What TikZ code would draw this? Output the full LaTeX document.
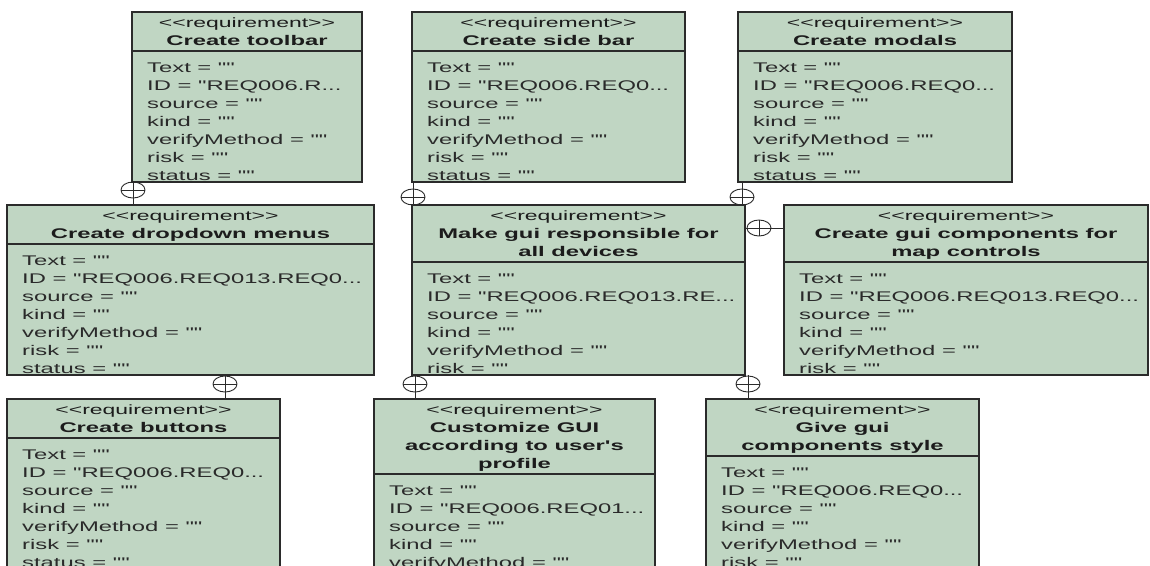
\documentclass[tikz,border=0pt]{standalone}
\usepackage{fontspec}
\usetikzlibrary{calc}
\newfontfamily\umlfont[FakeStretch=1.7]{Liberation Sans}
\definecolor{reqfill}{HTML}{C0D6C3}
\definecolor{reqline}{HTML}{2B2B2B}
\definecolor{reqtext}{HTML}{1C1C1C}
\definecolor{attrcol}{HTML}{2A2A2A}

\tikzset{
  reqframe/.style={draw=reqline, fill=reqfill, line width=1.3pt, rectangle,
    inner sep=0pt, outer sep=0pt},
  divider/.style={draw=reqline, line width=1.1pt},
  stereo/.style={font=\umlfont\fontsize{13.5}{16}\selectfont, text=reqtext,
    inner sep=0pt, anchor=base},
  titletext/.style={font=\umlfont\bfseries\fontsize{14}{17}\selectfont,
    text=reqtext, inner sep=0pt, anchor=base},
  attrtext/.style={font=\umlfont\fontsize{14}{17}\selectfont, text=attrcol,
    inner sep=0pt, anchor=base west},
  link/.style={draw=reqline, line width=0.9pt}
}

% truncation mark at the end of a clipped value
\newcommand\cut{...}

% requirement block: name, left, top, right, bottom, title lines, number of title lines, ID value
\newcommand\reqbox[8]{%
  \node[reqframe, anchor=north west, minimum width={(#4-#2)*1pt},
        minimum height={(#5-#3)*1pt}] (#1) at (#2,#3) {};
  \begin{scope}
    \clip (#1.north west) rectangle (#1.south east);
    \node[stereo] at ($(#1.north)+(0,15)$) {<\kern0pt<requirement>\kern0pt>};
    \foreach \t [count=\i from 0] in {#6}
      \node[titletext] at ($(#1.north)+(0,33+18*\i)$) {\t};
    \draw[divider] ($(#1.north west)+(0,21+18*#7)$) -- ($(#1.north east)+(0,21+18*#7)$);
    \node[attrtext] at ($(#1.north west)+(15,42+18*#7+18)$) {ID = "#8\cut};
    \foreach \a/\k in {Text = ""/0, source = ""/2, kind = ""/3,
        verifyMethod = ""/4, risk = ""/5, status = ""/6}
      \node[attrtext] at ($(#1.north west)+(15,42+18*#7+18*\k)$) {\a};
  \end{scope}
}

% ownership marker on a vertical link
\newcommand\vmark[1]{%
  \draw[link] (#1) ellipse [x radius=12, y radius=8];
  \draw[link] ($(#1)+(-12,0)$) -- ($(#1)+(12,0)$);
}
% ownership marker on a horizontal link
\newcommand\hmark[1]{%
  \draw[link] (#1) ellipse [x radius=12, y radius=8];
  \draw[link] ($(#1)+(0,-8)$) -- ($(#1)+(0,8)$);
}

\begin{document}
\begin{tikzpicture}[x=1pt, y=-1pt]
  \useasboundingbox (0,0) rectangle (1150,565);
  \fill[white] (0,0) rectangle (1150,565);
  \clip (0,0) rectangle (1150,565);

  % top row
  \reqbox{toolbar}{132}{12}{362}{182}{Create toolbar}{1}{REQ006.R}
  \reqbox{sidebar}{412}{12}{685}{182}{Create side bar}{1}{REQ006.REQ0}
  \reqbox{modals}{738}{12}{1012}{182}{Create modals}{1}{REQ006.REQ0}

  % middle row
  \reqbox{dropdown}{7}{205}{374}{375}{Create dropdown menus}{1}{REQ006.REQ013.REQ0}
  \reqbox{responsive}{412}{205}{745}{375}{Make gui responsible for,all devices}{2}{REQ006.REQ013.RE}
  \reqbox{mapctl}{784}{205}{1148}{375}{Create gui components for,map controls}{2}{REQ006.REQ013.REQ0}

  % bottom row
  \reqbox{buttons}{7}{399}{280}{590}{Create buttons}{1}{REQ006.REQ0}
  \reqbox{custom}{374}{399}{655}{590}{Customize GUI,according to user's,profile}{3}{REQ006.REQ01}
  \reqbox{style}{706}{399}{979}{590}{Give gui,components style}{2}{REQ006.REQ0}

  % containment links
  \coordinate (m1) at (133,190);
  \draw[link] (m1 |- toolbar.south) -- (m1 |- dropdown.north);
  \vmark{m1}

  \coordinate (m2) at (413,197);
  \draw[link] (m2 |- sidebar.south) -- (m2 |- responsive.north);
  \vmark{m2}

  \coordinate (m3) at (742,197);
  \draw[link] (m3 |- modals.south) -- (m3 |- responsive.north);
  \vmark{m3}

  \coordinate (m4) at (759,228);
  \draw[link] (responsive.east |- m4) -- (mapctl.west |- m4);
  \hmark{m4}

  \coordinate (m5) at (225,384);
  \draw[link] (m5 |- dropdown.south) -- (m5 |- buttons.north);
  \vmark{m5}

  \coordinate (m6) at (415,384);
  \draw[link] (m6 |- responsive.south) -- (m6 |- custom.north);
  \vmark{m6}

  \coordinate (m7) at (748,384);
  \draw[link] (m7 |- responsive.south) -- (m7 |- style.north);
  \vmark{m7}
\end{tikzpicture}
\end{document}
